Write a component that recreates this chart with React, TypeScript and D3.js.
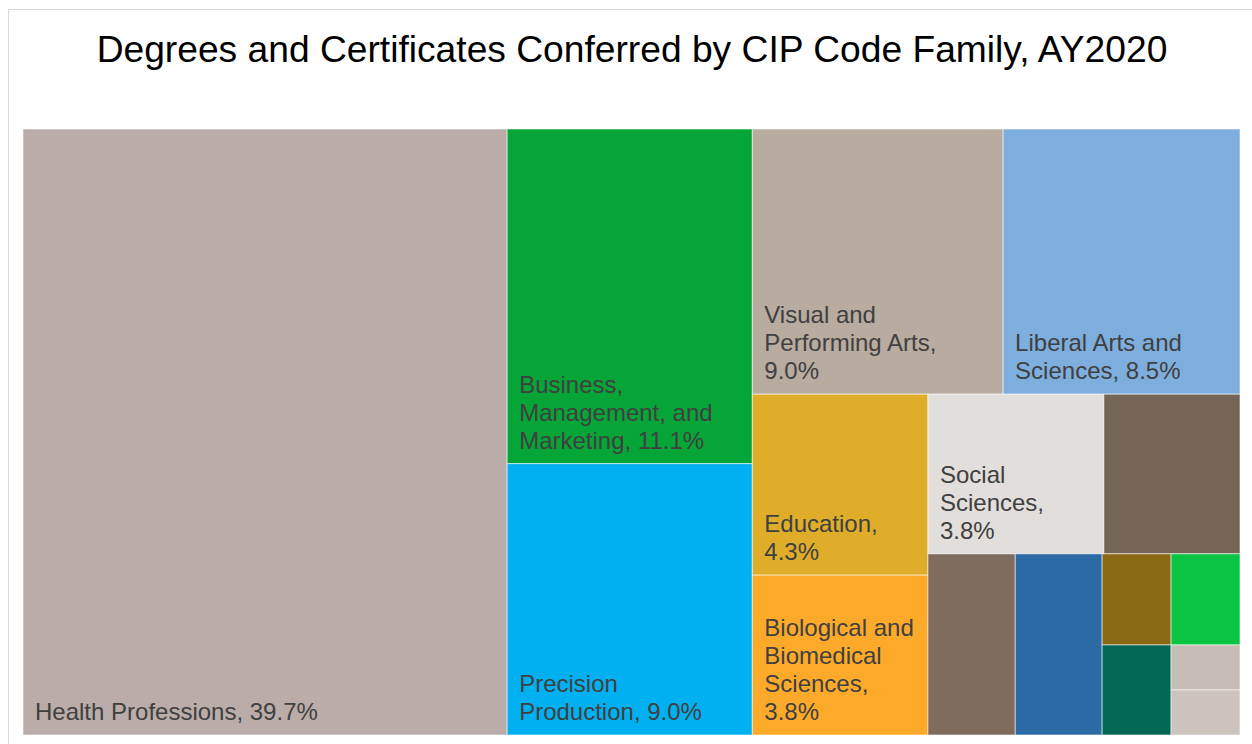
import React from "react";
import * as d3 from "d3";

const chartTitle = "Degrees and Certificates Conferred by CIP Code Family, AY2020";

const categories = [
  "Health Professions",
  "Business, Management, and Marketing",
  "Precision Production",
  "Visual and Performing Arts",
  "Liberal Arts and Sciences",
  "Education",
  "Biological and Biomedical Sciences",
  "Social Sciences",
  "Computer and Information Sciences",
  "Mechanic and Repair Technologies",
  "Homeland Security and Law Enforcement",
  "Engineering Technologies",
  "Family and Consumer Sciences",
  "Psychology",
  "Transportation and Materials Moving",
  "Construction Trades",
];

const shares = [39.7, 11.1, 9.0, 9.0, 8.5, 4.3, 3.8, 3.8, 2.94, 2.14, 2.13, 0.85, 0.85, 0.84, 0.42, 0.42];

const colors = [
  "#BAADA9",
  "#05A537",
  "#00B0F0",
  "#B8ABA0",
  "#7DAEDE",
  "#DFAD2A",
  "#FDAA2A",
  "#E2DEDB",
  "#756556",
  "#806C5C",
  "#2C6AA5",
  "#8B6914",
  "#0CC444",
  "#026856",
  "#C6BDB4",
  "#CCC3BD",
];

const labelMinShare = 3.5;

const W = 1252;
const H = 744;
const plot = { x: 23, y: 129, w: 1217, h: 606 };
const LABEL_FONT = "24px 'Liberation Sans', Arial, sans-serif";

// squarify variant (same as d3's squarify, with a target ratio below 1)
function squarifyTile(ratio: number) {
  return function (parent: any, x0: number, y0: number, x1: number, y1: number) {
    const nodes = parent.children;
    const n = nodes.length;
    let value = parent.value;
    let i0 = 0;
    let i1 = 0;
    while (i0 < n) {
      const dx = x1 - x0;
      const dy = y1 - y0;
      let sumValue = 0;
      do sumValue = nodes[i1++].value; while (!sumValue && i1 < n);
      let minValue = sumValue;
      let maxValue = sumValue;
      const alpha = Math.max(dy / dx, dx / dy) / (value * ratio);
      let beta = sumValue * sumValue * alpha;
      let minRatio = Math.max(maxValue / beta, beta / minValue);
      for (; i1 < n; ++i1) {
        const nv = nodes[i1].value;
        sumValue += nv;
        if (nv < minValue) minValue = nv;
        if (nv > maxValue) maxValue = nv;
        beta = sumValue * sumValue * alpha;
        const newRatio = Math.max(maxValue / beta, beta / minValue);
        if (newRatio > minRatio) {
          sumValue -= nv;
          break;
        }
        minRatio = newRatio;
      }
      const row: any = { value: sumValue, children: nodes.slice(i0, i1) };
      if (dx < dy) {
        const ny = dy ? y0 + (dy * sumValue) / value : y1;
        d3.treemapDice(row, x0, y0, x1, ny);
        y0 = ny;
      } else {
        const nx = dx ? x0 + (dx * sumValue) / value : x1;
        d3.treemapSlice(row, x0, y0, nx, y1);
        x0 = nx;
      }
      value -= sumValue;
      i0 = i1;
    }
  };
}

let ctx: CanvasRenderingContext2D | null = null;
function measure(text: string): number {
  if (!ctx) {
    const c = document.createElement("canvas");
    ctx = c.getContext("2d");
  }
  if (!ctx) return text.length * 12;
  ctx.font = LABEL_FONT;
  return ctx.measureText(text).width;
}

function wrap(text: string, maxW: number): string[] {
  const words = text.split(" ");
  const lines: string[] = [];
  let cur = "";
  for (const w of words) {
    const t = cur ? cur + " " + w : w;
    if (cur && measure(t) > maxW) {
      lines.push(cur);
      cur = w;
    } else {
      cur = t;
    }
  }
  if (cur) lines.push(cur);
  return lines;
}

export default function App() {
  const data = categories.map((name, i) => ({ name, value: shares[i], color: colors[i] }));
  const total = d3.sum(shares);
  const root = d3
    .hierarchy<any>({ children: data })
    .sum((d: any) => d.value || 0)
    .sort((a: any, b: any) => (b.value || 0) - (a.value || 0));
  d3.treemap<any>().tile(squarifyTile(0.75) as any).size([plot.w, plot.h]).round(false)(root);
  const leaves = root.leaves() as any[];
  const fmt = d3.format(".1f");

  return (
    <svg
      width={W}
      height={H}
      style={{ position: "absolute", left: 0, top: 0, background: "#fff" }}
      fontFamily="'Liberation Sans', Arial, sans-serif"
    >
      <rect x={8.5} y={9.5} width={1300} height={800} fill="#fff" stroke="#d9d9d9" strokeWidth={1} />
      <text x={632} y={62} textAnchor="middle" fontSize={37.2} fill="#000">
        {chartTitle}
      </text>
      <g transform={`translate(${plot.x},${plot.y})`}>
        {leaves.map((d, i) => (
          <rect
            key={"r" + i}
            x={d.x0}
            y={d.y0}
            width={d.x1 - d.x0}
            height={d.y1 - d.y0}
            fill={d.data.color}
            stroke="rgba(255,255,255,0.55)"
            strokeWidth={1}
          />
        ))}
        {leaves.map((d, i) => {
          if (d.data.value < labelMinShare) return null;
          const label = `${d.data.name}, ${fmt(d.data.value)}%`;
          const lines = wrap(label, d.x1 - d.x0 - 24);
          const lastY = d.y1 - 15;
          return (
            <text key={"t" + i} fontSize={24} fill="#404040">
              {lines.map((ln, j) => (
                <tspan key={j} x={d.x0 + 12} y={lastY - (lines.length - 1 - j) * 28}>
                  {ln}
                </tspan>
              ))}
            </text>
          );
        })}
      </g>
    </svg>
  );
}
